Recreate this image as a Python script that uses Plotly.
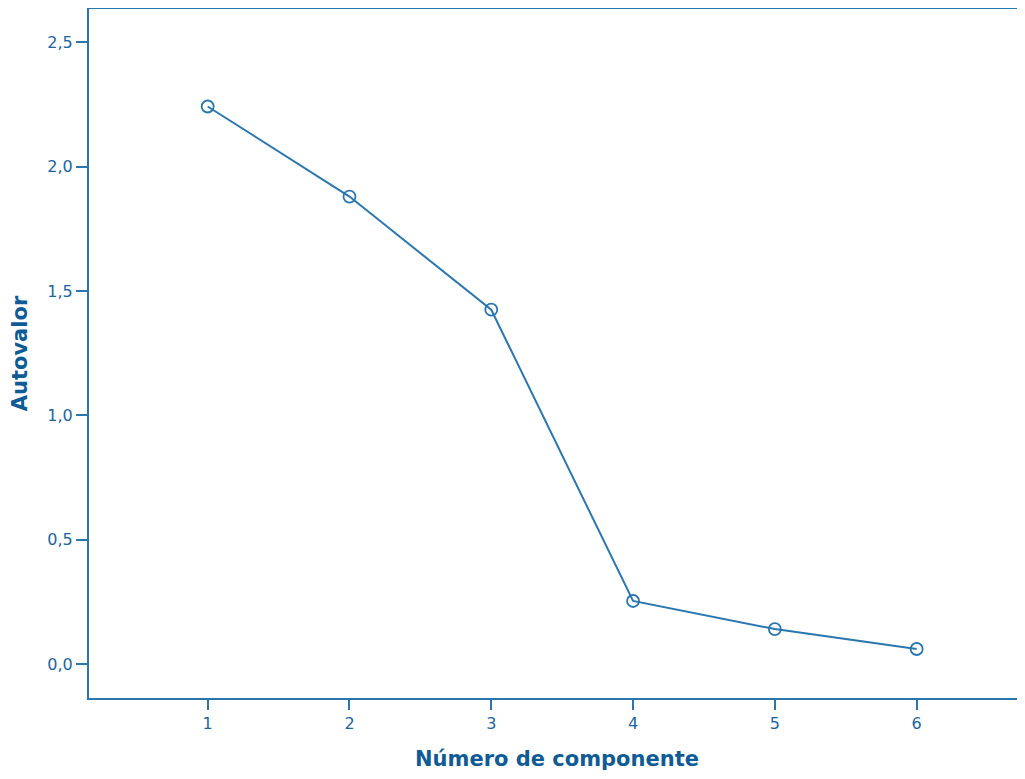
import plotly.graph_objects as go

components = [1, 2, 3, 4, 5, 6]
eigenvalues = [2.242, 1.880, 1.425, 0.254, 0.141, 0.061]
y_ticks = [0.0, 0.5, 1.0, 1.5, 2.0, 2.5]

line_color = "#2a77b0"
tick_color = "#1a66a3"
title_color = "#0f5b95"
font_family = "DejaVu Sans"

fig = go.Figure()
fig.add_trace(go.Scatter(
    x=components, y=eigenvalues, mode="lines+markers",
    line=dict(color=line_color, width=2),
    marker=dict(symbol="circle-open", size=12, color=line_color, line=dict(width=1.8, color=line_color)),
    showlegend=False, hoverinfo="x+y",
))

# page body has an ~8px margin; keep the page within the window (no scrollbar)
fig.update_layout(
    width=1017, height=763,
    margin=dict(l=81, r=0, t=1, b=73),
    plot_bgcolor="white", paper_bgcolor="white",
    separators=",.",
    font=dict(family=font_family, color=tick_color, size=16),
    xaxis=dict(
        range=[0.163, 6.764], tickvals=components, ticks="outside", ticklen=10,
        tickwidth=2, tickcolor=line_color, showline=True, linecolor=line_color,
        linewidth=2, mirror=True, showgrid=False, zeroline=False, automargin=False,
        tickfont=dict(size=16, color=tick_color, family=font_family),
        title=dict(text="<b>Número de componente</b>", standoff=25,
                   font=dict(size=21, color=title_color, family=font_family)),
    ),
    yaxis=dict(
        range=[-0.136, 2.634], tickvals=y_ticks, tickformat=".1f", ticks="outside",
        ticklen=11, tickwidth=2, tickcolor=line_color, showline=True,
        linecolor=line_color, linewidth=2, mirror=False, showgrid=False,
        zeroline=False, automargin=False,
        tickfont=dict(size=16, color=tick_color, family=font_family),
        title=dict(text="<b>Autovalor</b>", standoff=14,
                   font=dict(size=21, color=title_color, family=font_family)),
    ),
)

fig.write_html("out.html")
